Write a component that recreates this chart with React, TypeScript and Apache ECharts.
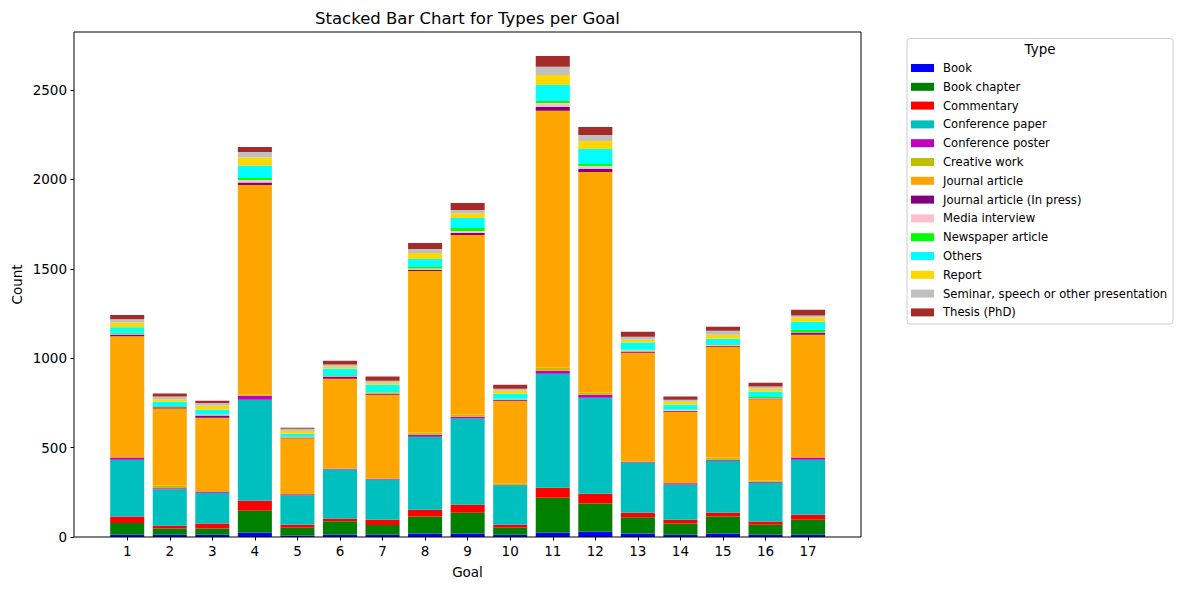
import React, { useEffect, useRef } from "react";
import * as echarts from "echarts";

const goals = ["1","2","3","4","5","6","7","8","9","10","11","12","13","14","15","16","17"];
const types = [
  "Book","Book chapter","Commentary","Conference paper","Conference poster","Creative work",
  "Journal article","Journal article (In press)","Media interview","Newspaper article","Others",
  "Report","Seminar, speech or other presentation","Thesis (PhD)",
];
const colors = [
  "#0000ff","#008000","#ff0000","#00bfbf","#bf00bf","#bfbf00","#ffa500","#800080",
  "#ffc0cb","#00ff00","#00ffff","#ffd700","#c0c0c0","#a52a2a",
];

const book = [13,13,13,24,9,13,13,19,19,13,24,30,19,13,19,13,13];
const bookChapter = [65,34,34,123,43,75,54,95,117,39,196,158,91,62,95,56,84];
const commentary = [36,16,28,56,17,15,30,39,45,17,56,54,26,22,22,17,28];
const conferencePaper = [318,204,173,565,164,274,224,408,481,220,637,537,280,196,291,218,307];
const conferencePoster = [12,5,6,22,6,5,5,11,11,2,17,17,5,7,5,5,12];
const creativeWork = [2,17,0,5,0,2,0,12,11,9,17,11,0,0,12,6,0];
const journalArticle = [676,429,413,1174,313,501,470,904,1005,462,1436,1234,610,401,620,455,687];
const journalInPress = [11,7,13,13,5,12,6,7,11,6,22,17,7,5,6,5,12];
const mediaInterview = [3,4,3,15,3,5,6,6,11,2,22,17,6,6,3,2,3];
const newspaperArticle = [6,4,2,11,3,4,7,11,17,3,12,11,5,2,5,8,13];
const others = [31,24,26,69,15,35,37,43,56,28,89,84,38,26,31,28,45];
const report = [26,13,23,45,15,11,11,33,27,17,56,45,16,17,22,16,23];
const seminar = [18,15,15,31,13,12,11,23,18,11,45,33,17,11,23,12,11];
const thesis = [25,17,13,28,5,22,23,33,39,23,61,45,28,17,22,22,33];

const seriesValues = [
  book, bookChapter, commentary, conferencePaper, conferencePoster, creativeWork,
  journalArticle, journalInPress, mediaInterview, newspaperArticle, others,
  report, seminar, thesis,
];

const yTicks = [0, 500, 1000, 1500, 2000, 2500];

const FONT = "DejaVu Sans";

export default function App() {
  const ref = useRef<HTMLDivElement>(null);
  useEffect(() => {
    if (!ref.current) return;
    const chart = echarts.init(ref.current, undefined, { renderer: "svg" });
    const plotL = 74, plotR = 861, plotT = 32, plotB = 537;
    const band = (808.1 - 127.2) / 16;
    const gridLeft = 127.2 - band / 2;
    const gridRight = 1182 - (gridLeft + band * 17);
    chart.setOption({
      animation: false,
      backgroundColor: "#ffffff",
      textStyle: { fontFamily: FONT },
      grid: { left: gridLeft, right: gridRight, top: plotT, bottom: 590 - plotB, containLabel: false },
      xAxis: {
        type: "category",
        data: goals,
        axisLine: { show: false },
        axisTick: { show: true, alignWithLabel: true, length: 3.5, lineStyle: { color: "#000", width: 1 } },
        axisLabel: { color: "#000", fontSize: 13.5, fontFamily: FONT, margin: 7 },
        splitLine: { show: false },
      },
      yAxis: {
        type: "value",
        min: 0,
        max: 2824,
        interval: 500,
        offset: gridLeft - plotL,
        axisLine: { show: false },
        axisTick: { show: true, length: 3.5, lineStyle: { color: "#000", width: 1 } },
        axisLabel: {
          color: "#000", fontSize: 13.5, fontFamily: FONT, margin: 7,
          showMaxLabel: false,
          formatter: (v: number) => (yTicks.indexOf(v) >= 0 ? String(v) : ""),
        },
        splitLine: { show: false },
      },
      legend: {
        orient: "vertical",
        left: 911,
        top: 62,
        padding: 0,
        itemWidth: 23,
        itemHeight: 8,
        itemGap: 6.8,
        icon: "rect",
        selectedMode: false,
        data: types,
        textStyle: { color: "#000", fontSize: 11.6, fontFamily: FONT, lineHeight: 12, padding: [0, 0, 0, 4] },
      },
      series: types.map((name, i) => ({
        name,
        type: "bar",
        stack: "total",
        barWidth: band * 0.8,
        itemStyle: { color: colors[i] },
        emphasis: { disabled: true },
        data: seriesValues[i],
      })),
      graphic: [
        {
          type: "rect",
          z: 100,
          shape: { x: plotL, y: plotT, width: plotR - plotL, height: plotB - plotT },
          style: { fill: "none", stroke: "#000", lineWidth: 1 },
          silent: true,
        },
        {
          type: "text",
          x: (plotL + plotR) / 2,
          y: 18,
          style: { text: "Stacked Bar Chart for Types per Goal", fontSize: 16.5, fontFamily: FONT, fill: "#000", align: "center", verticalAlign: "middle" },
        },
        {
          type: "text",
          x: (plotL + plotR) / 2,
          y: 572,
          style: { text: "Goal", fontSize: 13.5, fontFamily: FONT, fill: "#000", align: "center", verticalAlign: "middle" },
        },
        {
          type: "text",
          x: 17,
          y: (plotT + plotB) / 2,
          rotation: Math.PI / 2,
          style: { text: "Count", fontSize: 13.5, fontFamily: FONT, fill: "#000", align: "center", verticalAlign: "middle" },
        },
        {
          type: "rect",
          z: -1,
          shape: { x: 907, y: 38.5, width: 266, height: 285.5, r: 3 },
          style: { fill: "#ffffff", stroke: "#cccccc", lineWidth: 1 },
          silent: true,
        },
        {
          type: "text",
          x: 1040,
          y: 49,
          style: { text: "Type", fontSize: 13.5, fontFamily: FONT, fill: "#000", align: "center", verticalAlign: "middle" },
        },
      ],
    });
    return () => chart.dispose();
  }, []);
  return <div ref={ref} style={{ position: "fixed", left: 0, top: 0, width: 1182, height: 590 }} />;
}
